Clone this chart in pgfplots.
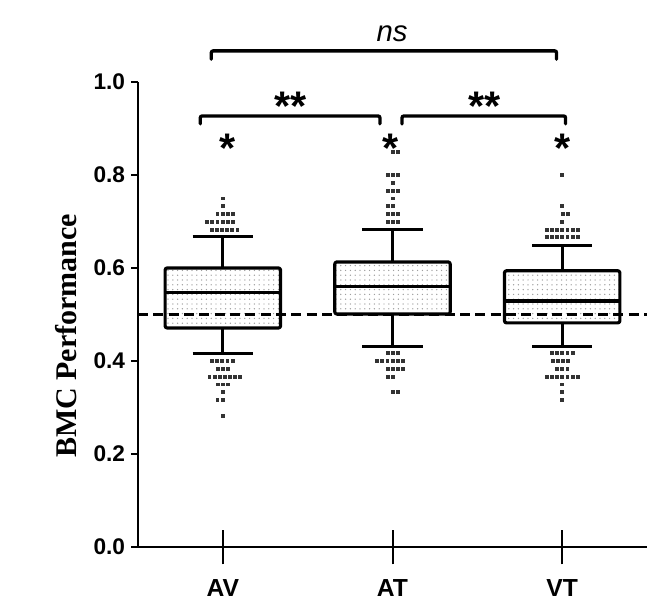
\documentclass[border=0pt]{standalone}
\usepackage{fontspec}
\setmainfont{Liberation Sans}
\newfontfamily\timesfont{Liberation Serif}
\usepackage{pgfplots}
\pgfplotsset{compat=1.18}
\usepgfplotslibrary{statistics}
\usetikzlibrary{patterns.meta}
\begin{document}
\begin{tikzpicture}
\path[use as bounding box] (-103.5pt,-51.75pt) rectangle (396.75pt,410.25pt);
\begin{axis}[
  at={(0,0)}, anchor=south west,
  scale only axis, width=381.75pt, height=348.75pt,
  xmin=0.5, xmax=3.5, ymin=0, ymax=1,
  clip=false,
  boxplot/draw direction=y,
  boxplot/every box/.style={line width=2.4pt, rounded corners=1.5pt},
  boxplot/every median/.style={line width=2.4pt},
  boxplot/every whisker/.style={line width=2.2pt},
  axis x line=bottom, axis y line=left,
  axis line style={-, line width=1.5pt},
  xtick=\empty,
  extra x ticks={1,2,3},
  extra x tick labels={AV,AT,VT},
  extra x tick style={major tick length=26pt, tick align=center,
     xticklabel style={font=\fontsize{18.5}{18.5}\selectfont\bfseries, yshift=-8pt}},
  ytick={0,0.2,0.4,0.6,0.8,1.0},
  tick align=outside, major tick length=5pt,
  tick style={line width=1.5pt, black},
  /pgf/number format/.cd, fixed, fixed zerofill, precision=1, assume math mode=true,
  /pgfplots/.cd,
  yticklabel style={font=\fontsize{17}{17}\selectfont\bfseries, inner sep=0pt, xshift=-4.5pt},
  ylabel={BMC Performance},
  ylabel style={font=\fontsize{22.5}{22.5}\selectfont\timesfont\bfseries, at={(axis description cs:-0.12,0.454)}, anchor=south, inner sep=0pt},
]
\addplot[boxplot prepared={draw position=1, lower whisker=0.417, lower quartile=0.471, median=0.548, upper quartile=0.600, upper whisker=0.667, box extend=0.68, whisker extend=0.355},
  draw=black, line width=2.2pt, line join=round, pattern={Dots[radius=0.55pt, distance=3.6pt]}, pattern color=gray!75] coordinates {};
\addplot[boxplot prepared={draw position=2, lower whisker=0.432, lower quartile=0.501, median=0.561, upper quartile=0.613, upper whisker=0.682, box extend=0.68, whisker extend=0.355},
  draw=black, line width=2.2pt, line join=round, pattern={Dots[radius=0.55pt, distance=3.6pt]}, pattern color=gray!75] coordinates {};
\addplot[boxplot prepared={draw position=3, lower whisker=0.432, lower quartile=0.482, median=0.529, upper quartile=0.594, upper whisker=0.649, box extend=0.68, whisker extend=0.355},
  draw=black, line width=2.2pt, line join=round, pattern={Dots[radius=0.55pt, distance=3.6pt]}, pattern color=gray!75] coordinates {};
% chance level
\addplot[black, line width=2pt, dash pattern=on 7.5pt off 4pt] coordinates {(0.5,0.5) (3.5,0.5)};
% outliers
\addplot[only marks, mark=square*, mark size=1.1pt, black!80] coordinates {
(1.0,0.750) (1.0,0.733)
(0.967,0.717) (0.997,0.717) (1.027,0.717) (1.057,0.717)
(0.907,0.700) (0.937,0.700) (0.967,0.700) (0.997,0.700) (1.027,0.700) (1.057,0.700)
(0.935,0.683) (0.965,0.683) (0.995,0.683) (1.025,0.683) (1.055,0.683) (1.085,0.683)
(0.936,0.400) (0.966,0.400) (0.996,0.400) (1.026,0.400) (1.056,0.400)
(0.97,0.383) (1.0,0.383) (1.03,0.383)
(0.92,0.367) (0.95,0.367) (0.98,0.367) (1.01,0.367) (1.04,0.367) (1.07,0.367) (1.10,0.367)
(0.97,0.350) (1.0,0.350) (1.03,0.350)
(1.0,0.333)
(0.967,0.317) (0.997,0.317)
(1.0,0.283)
(2.001,0.850) (2.031,0.850)
(1.97,0.800) (2.0,0.800) (2.03,0.800)
(2.0,0.783)
(1.97,0.767) (2.0,0.767) (2.03,0.767)
(2.0,0.750)
(1.973,0.733) (2.003,0.733)
(1.97,0.717) (2.0,0.717) (2.03,0.717)
(1.97,0.700) (2.0,0.700) (2.03,0.700)
(1.97,0.417) (2.0,0.417) (2.03,0.417)
(1.909,0.400) (1.939,0.400) (1.969,0.400) (1.999,0.400) (2.029,0.400) (2.059,0.400)
(1.971,0.383) (2.001,0.383) (2.031,0.383) (2.061,0.383)
(1.973,0.367) (2.003,0.367)
(2.001,0.333) (2.031,0.333)
(3.0,0.800) (3.0,0.733)
(3.005,0.717) (3.035,0.717)
(3.0,0.700)
(2.91,0.683) (2.94,0.683) (2.97,0.683) (3.0,0.683) (3.03,0.683) (3.06,0.683) (3.09,0.683)
(2.91,0.667) (2.94,0.667) (2.97,0.667) (3.0,0.667) (3.03,0.667) (3.06,0.667) (3.09,0.667)
(2.94,0.417) (2.97,0.417) (3.0,0.417) (3.03,0.417) (3.06,0.417)
(2.945,0.400) (2.975,0.400) (3.005,0.400) (3.035,0.400)
(2.97,0.383) (3.0,0.383) (3.03,0.383)
(2.91,0.367) (2.94,0.367) (2.97,0.367) (3.0,0.367) (3.03,0.367) (3.06,0.367) (3.09,0.367)
(3.0,0.350) (3.0,0.333) (3.0,0.317)
};
% significance brackets
\draw[line width=2.5pt, rounded corners=1.5pt, line cap=round] (axis cs:0.932,1.049) -- (axis cs:0.932,1.067) -- (axis cs:2.967,1.067) -- (axis cs:2.967,1.049);
\draw[line width=2.5pt, rounded corners=1.5pt, line cap=round] (axis cs:0.867,0.910) -- (axis cs:0.867,0.927) -- (axis cs:1.926,0.927) -- (axis cs:1.926,0.910);
\draw[line width=2.5pt, rounded corners=1.5pt, line cap=round] (axis cs:2.056,0.910) -- (axis cs:2.056,0.927) -- (axis cs:3.02,0.927) -- (axis cs:3.02,0.910);
\node[anchor=base, inner sep=0pt, font=\fontsize{22}{22}\selectfont\itshape] at (axis cs:1.997,1.086) {ns};
\node[anchor=north, inner sep=0pt, font=\fontsize{31}{31}\selectfont\bfseries] at (axis cs:1.40,0.978) {**};
\node[anchor=north, inner sep=0pt, font=\fontsize{31}{31}\selectfont\bfseries] at (axis cs:2.54,0.978) {**};
\node[anchor=north, inner sep=0pt, font=\fontsize{31}{31}\selectfont\bfseries] at (axis cs:1.027,0.888) {*};
\node[anchor=north, inner sep=0pt, font=\fontsize{31}{31}\selectfont\bfseries] at (axis cs:1.99,0.888) {*};
\node[anchor=north, inner sep=0pt, font=\fontsize{31}{31}\selectfont\bfseries] at (axis cs:3.0,0.888) {*};
\end{axis}
\end{tikzpicture}
\end{document}
